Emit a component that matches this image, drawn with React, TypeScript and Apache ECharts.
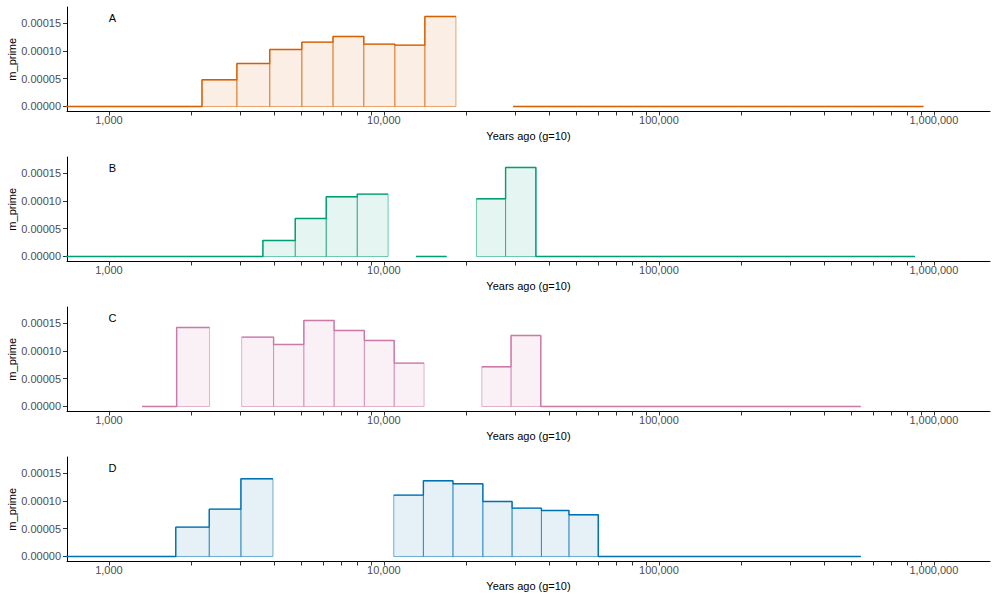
import React, { useEffect, useRef } from "react";
import * as echarts from "echarts";

// Panel labels and colours (Okabe-Ito palette)
const panelLabels = ["A", "B", "C", "D"];
const panelColors = ["#D55E00", "#009E73", "#CC79A7", "#0072B2"];

// Time bins (years ago, g=10) and the m_prime estimate in each bin; null = no estimate
const edgesA = [600, 2180, 2920, 3845, 5030, 6530, 8450, 10960, 14090, 18280, 29500, 916000];
const valuesA = [0, 0.000048, 0.0000774, 0.0001026, 0.0001158, 0.000126, 0.0001122, 0.0001104, 0.000162, null, 0];

const edgesB = [600, 3630, 4760, 6170, 8000, 10360, 13100, 16900, 21700, 27700, 35700, 853000];
const valuesB = [0, 0.0000288, 0.0000684, 0.0001074, 0.0001122, null, 0, null, 0.0001038, 0.0001602, 0];

const edgesC = [1320, 1763, 2323, 3040, 3970, 5115, 6590, 8490, 10900, 14000, 22700, 29000, 37200, 542000];
const valuesC = [0, 0.0001422, null, 0.0001248, 0.0001116, 0.0001548, 0.0001368, 0.0001188, 0.000078, null, 0.0000714, 0.0001278, 0];

const edgesD = [600, 1750, 2317, 3020, 3950, 10860, 13920, 17830, 22900, 29250, 37400, 47100, 60200, 542000];
const valuesD = [0, 0.0000528, 0.0000852, 0.0001398, null, 0.0001104, 0.0001362, 0.0001308, 0.000099, 0.000087, 0.0000828, 0.000075, 0];

const panelEdges = [edgesA, edgesB, edgesC, edgesD];
const panelValues = [valuesA, valuesB, valuesC, valuesD];

// Axis ticks
const xTickLabels = [1000, 10000, 100000, 1000000];
const xMinorMultipliers = [1, 2, 3, 4, 5, 6, 7, 8, 9];
const xTickDecades = [1000, 10000, 100000];
const yTickValues = [0, 0.00005, 0.0001, 0.00015];

const X_MIN = 704;
const X_MAX = 1600000;
const Y_MIN = -0.000009;
const Y_MAX = 0.000179;

const FONT = "'Liberation Sans', Arial, Helvetica, sans-serif";

const lg = (v: number) => Math.log10(v);

function rgba(hex: string, a: number) {
  const n = parseInt(hex.slice(1), 16);
  return `rgba(${(n >> 16) & 255},${(n >> 8) & 255},${n & 255},${a})`;
}

function buildOption() {
  const xTicks: number[] = [];
  xTickDecades.forEach((d) => xMinorMultipliers.forEach((m) => xTicks.push(lg(d * m))));
  xTicks.push(lg(1000000));

  const grid: any[] = [];
  const xAxis: any[] = [];
  const yAxis: any[] = [];
  const series: any[] = [];
  const graphic: any[] = [];

  panelLabels.forEach((label, i) => {
    const color = panelColors[i];
    const edges = panelEdges[i];
    const values = panelValues[i];
    const top = 7 + 150 * i;

    grid.push({
      left: 67,
      right: 10,
      top,
      height: 104.5,
      containLabel: false,
      outerBoundsMode: "none",
    });

    xAxis.push({
      type: "value",
      gridIndex: i,
      min: lg(X_MIN),
      max: lg(X_MAX),
      name: "Years ago (g=10)",
      nameLocation: "middle",
      nameGap: 19,
      nameMoveOverlap: false,
      nameTextStyle: { color: "#000", fontSize: 11, fontFamily: FONT },
      axisLine: { show: true, onZero: false, lineStyle: { color: "#000", width: 1 } },
      axisTick: { show: true, length: 4, customValues: xTicks, lineStyle: { color: "#333", width: 1 } },
      axisLabel: {
        customValues: xTickLabels.map(lg),
        formatter: (v: number) => Math.round(Math.pow(10, v)).toLocaleString("en-US"),
        color: "#4D4D4D",
        fontSize: 11,
        fontFamily: FONT,
        margin: 3,
      },
      splitLine: { show: false },
    });

    yAxis.push({
      type: "value",
      gridIndex: i,
      min: Y_MIN,
      max: Y_MAX,
      name: "m_prime",
      nameLocation: "middle",
      nameGap: 50,
      nameRotate: 90,
      nameMoveOverlap: false,
      nameTextStyle: { color: "#000", fontSize: 11, fontFamily: FONT },
      axisLine: { show: true, onZero: false, lineStyle: { color: "#000", width: 1 } },
      axisTick: { show: true, length: 4, customValues: yTickValues, lineStyle: { color: "#333", width: 1 } },
      axisLabel: {
        customValues: yTickValues,
        formatter: (v: number) => v.toFixed(5),
        color: "#4D4D4D",
        fontSize: 11,
        fontFamily: FONT,
        margin: 6,
      },
      splitLine: { show: false },
    });

    // Bins as filled rectangles
    const bins: number[][] = [];
    values.forEach((v, k) => {
      if (v !== null) bins.push([lg(edges[k]), lg(edges[k + 1]), v]);
    });
    series.push({
      type: "custom",
      xAxisIndex: i,
      yAxisIndex: i,
      data: bins,
      encode: { x: [0, 1], y: 2 },
      z: 2,
      renderItem: (params: any, api: any) => {
        const cs = params.coordSys;
        const p0 = api.coord([api.value(0), 0]);
        const p1 = api.coord([api.value(1), api.value(2)]);
        const x0 = Math.max(p0[0], cs.x);
        const x1 = Math.min(p1[0], cs.x + cs.width);
        return {
          type: "rect",
          shape: { x: x0, y: p1[1], width: x1 - x0, height: p0[1] - p1[1] },
          style: { fill: rgba(color, 0.1), stroke: rgba(color, 0.55), lineWidth: 1 },
        };
      },
    });

    // Step outline over each run of consecutive estimates
    let run: number[][] = [];
    const flush = () => {
      if (run.length) {
        series.push({
          type: "line",
          xAxisIndex: i,
          yAxisIndex: i,
          data: run,
          showSymbol: false,
          symbol: "none",
          clip: true,
          z: 3,
          lineStyle: { color, width: 1.4 },
        });
      }
      run = [];
    };
    values.forEach((v, k) => {
      if (v === null) {
        flush();
        return;
      }
      run.push([lg(edges[k]), v]);
      run.push([lg(edges[k + 1]), v]);
    });
    flush();

    graphic.push({
      type: "text",
      x: 112.5,
      y: top + 11,
      style: {
        text: label,
        fontSize: 11,
        fontFamily: FONT,
        fill: "#000",
        align: "center",
        verticalAlign: "middle",
        textAlign: "center",
        textVerticalAlign: "middle",
      },
    });
  });

  return { animation: false, backgroundColor: "#fff", grid, xAxis, yAxis, series, graphic };
}

export default function App() {
  const ref = useRef<HTMLDivElement>(null);
  useEffect(() => {
    if (!ref.current) return;
    const chart = echarts.init(ref.current, undefined, { renderer: "svg" });
    chart.setOption(buildOption() as any);
    return () => chart.dispose();
  }, []);
  return (
    <div
      ref={ref}
      style={{ position: "absolute", left: 0, top: 0, width: 1000, height: 600, background: "#fff" }}
    />
  );
}
